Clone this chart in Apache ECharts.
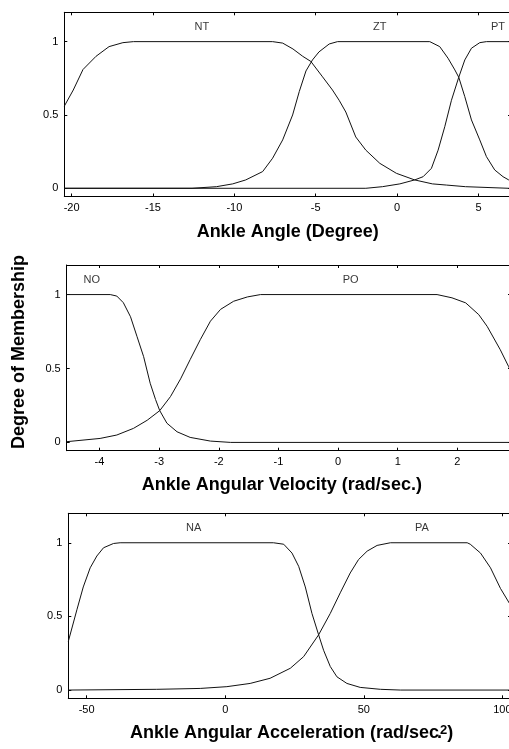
<!DOCTYPE html>
<html lang="en">
<head>
    <meta charset="UTF-8">
    <title>Membership functions</title>
    <script src="https://cdn.jsdelivr.net/npm/echarts@6/dist/echarts.min.js"></script>
</head>
<style>
    *{
        margin: 0;
        padding: 0;
    }
    html,body{
        width: 100%;
        height: 100%;
        overflow: hidden;
        background: #fff;
    }
    .container{
        width: 509px;
        height: 749px;
    }
</style>
<body>
<div class="container"></div>
<script>
    // y axis, shared by the three plots
    const yTicks = [0, 0.5, 1];
    const yMin = -0.056, yMax = 1.2;

    // ankle angle (degree)
    const angleTicks = [-20, -15, -10, -5, 0, 5];
    const angleRange = [-20.45, 7];
    const angleNT = [[-20.45,0.56],[-19.9,0.67],[-19.3,0.81],[-18.5,0.9],[-17.7,0.966],[-16.85,0.993],[-16.2,1],[-7.65,1],[-7.03,0.99],[-6.4,0.95],[-5.8,0.9],[-5.3,0.865],[-4.58,0.76],[-3.97,0.67],[-3.56,0.6],[-3.15,0.52],[-2.54,0.35],[-1.92,0.26],[-1.06,0.17],[-0.04,0.102],[1.08,0.057],[2.17,0.03],[3.03,0.022],[4.2,0.011],[6.86,0],[7,0]];
    const angleZT = [[-20.45,0],[-12.6,0],[-11.1,0.011],[-10.1,0.03],[-9.3,0.057],[-8.26,0.114],[-7.65,0.205],[-7.03,0.33],[-6.42,0.5],[-6.01,0.66],[-5.6,0.8],[-5.2,0.875],[-4.8,0.93],[-4.17,0.984],[-3.66,1],[2.01,1],[2.62,0.966],[3.13,0.887],[3.55,0.807],[3.79,0.757],[4.16,0.625],[4.57,0.466],[5.08,0.33],[5.49,0.216],[6.0,0.125],[6.51,0.079],[6.86,0.057],[7,0.052]];
    const anglePT = [[-20.45,0],[-1.92,0],[-0.9,0.011],[0.17,0.03],[1.08,0.057],[1.6,0.079],[2.11,0.136],[2.52,0.26],[2.93,0.42],[3.34,0.6],[3.79,0.757],[4.16,0.875],[4.57,0.955],[5.08,0.993],[5.49,1],[7,1]];
    const angleNames = ['NT', 'ZT', 'PT'];
    const angleNameX = [-12, -1.06, 6.2];

    // ankle angular velocity (rad/sec.)
    const velTicks = [-4, -3, -2, -1, 0, 1, 2];
    const velRange = [-4.55, 2.9];
    const velNO = [[-4.55,1],[-3.82,1],[-3.71,0.99],[-3.6,0.945],[-3.48,0.85],[-3.37,0.715],[-3.26,0.58],[-3.15,0.4],[-3.06,0.29],[-2.99,0.215],[-2.87,0.13],[-2.7,0.072],[-2.48,0.034],[-2.14,0.009],[-1.8,0],[2.9,0]];
    const velPO = [[-4.55,0.005],[-3.99,0.027],[-3.71,0.05],[-3.43,0.095],[-3.2,0.15],[-2.99,0.215],[-2.81,0.31],[-2.64,0.43],[-2.48,0.56],[-2.31,0.695],[-2.14,0.82],[-1.97,0.9],[-1.75,0.955],[-1.52,0.984],[-1.3,1],[1.66,1],[1.91,0.978],[2.14,0.944],[2.36,0.864],[2.5,0.785],[2.61,0.706],[2.72,0.627],[2.86,0.513],[2.9,0.48]];
    const velNames = ['NO', 'PO'];
    const velNameX = [-4.13, 0.21];

    // ankle angular acceleration (rad/sec^2)
    const accTicks = [-50, 0, 50, 100];
    const accRange = [-56.6, 103.1];
    const accNA = [[-56.6,0.33],[-53.5,0.545],[-51.2,0.7],[-48.7,0.83],[-46.3,0.91],[-43.9,0.966],[-40.3,0.995],[-37.9,1],[17.4,1],[21.1,0.99],[24.1,0.93],[26.5,0.84],[28.9,0.7],[31.3,0.52],[33.7,0.375],[35.5,0.27],[37.9,0.16],[40.3,0.09],[43.9,0.045],[48.7,0.018],[56,0.005],[63.2,0],[103.1,0]];
    const accPA = [[-56.6,0],[-24.7,0.005],[-9,0.011],[0.6,0.023],[9,0.045],[16.2,0.08],[23.5,0.148],[28.3,0.227],[33.7,0.375],[37.9,0.52],[41.5,0.66],[45.1,0.795],[48.1,0.886],[51.2,0.943],[54.8,0.982],[59.6,1],[87.3,1],[88.4,0.99],[92.1,0.93],[95.7,0.83],[99.3,0.69],[102.5,0.59],[103.1,0.57]];
    const accNames = ['NA', 'PA'];
    const accNameX = [-11.4, 71];

    const nameY = 1.1;

    const font = 'Liberation Sans, Arial, sans-serif';

    let container = document.querySelector('.container');
    let mycharts = echarts.init(container);

    let grids = [
        {left: 64.3, top: 12.3, height: 184.2, right: -2, outerBoundsMode: 'none'},
        {left: 66.7, top: 265, height: 185.7, right: -2, outerBoundsMode: 'none'},
        {left: 68.3, top: 513.3, height: 185, right: -2, outerBoundsMode: 'none'}
    ];

    let plots = [
        {range: angleRange, ticks: angleTicks, curves: [angleNT, angleZT, anglePT], names: angleNames, nameX: angleNameX,
         title: 'Ankle Angle (Degree)', gap: 27, pad: [0, 0, 0, 0]},
        {range: velRange, ticks: velTicks, curves: [velNO, velPO], names: velNames, nameX: velNameX,
         title: 'Ankle Angular Velocity (rad/sec.)', gap: 25.5, pad: [0, 14, 0, 0]},
        {range: accRange, ticks: accTicks, curves: [accNA, accPA], names: accNames, nameX: accNameX,
         title: 'Ankle Angular Acceleration (rad/sec{dot|.}{sup|2})', gap: 25.5, pad: [0, 0, 0, 4]}
    ];

    let xAxis = [], yAxis = [], series = [];
    let line = {show: true, onZero: false, lineStyle: {color: '#000', width: 1}};
    let tickIn = {inside: true, length: 3, lineStyle: {color: '#000', width: 1}};

    plots.forEach((p, i) => {
        xAxis.push({
            type: 'value', gridIndex: i, position: 'bottom',
            min: p.range[0], max: p.range[1],
            axisLine: line,
            axisTick: Object.assign({customValues: p.ticks}, tickIn),
            axisLabel: {customValues: p.ticks, color: '#000', fontSize: 11, fontFamily: font, margin: 6},
            splitLine: {show: false},
            name: p.title, nameLocation: 'middle', nameGap: p.gap,
            nameTextStyle: {
                color: '#000', fontSize: 18, fontWeight: 'bold', fontFamily: font, padding: p.pad,
                rich: {
                    dot: {color: '#000', fontSize: 18, fontWeight: 'bold', fontFamily: font, width: 1},
                    sup: {color: '#000', fontSize: 13, fontWeight: 'bold', fontFamily: font, verticalAlign: 'top'}
                }
            }
        });
        xAxis.push({
            type: 'value', gridIndex: i, position: 'top',
            min: p.range[0], max: p.range[1],
            axisLine: line,
            axisTick: Object.assign({customValues: p.ticks}, tickIn),
            axisLabel: {show: false},
            splitLine: {show: false}
        });
        yAxis.push({
            type: 'value', gridIndex: i, position: 'left',
            min: yMin, max: yMax,
            axisLine: line,
            axisTick: Object.assign({customValues: yTicks}, tickIn),
            axisLabel: {customValues: yTicks, color: '#000', fontSize: 11, fontFamily: font, margin: 6},
            splitLine: {show: false}
        });
        yAxis.push({
            type: 'value', gridIndex: i, position: 'right',
            min: yMin, max: yMax,
            axisLine: line,
            axisTick: Object.assign({customValues: yTicks}, tickIn),
            axisLabel: {show: false},
            splitLine: {show: false}
        });

        p.curves.forEach(c => {
            series.push({
                type: 'line', xAxisIndex: i * 2, yAxisIndex: i * 2,
                data: c, showSymbol: false, symbol: 'none', smooth: false,
                lineStyle: {color: '#111', width: 1},
                silent: true
            });
        });

        series.push({
            type: 'scatter', xAxisIndex: i * 2, yAxisIndex: i * 2,
            data: p.names.map((n, k) => [p.nameX[k], nameY, n]),
            symbolSize: 1,
            itemStyle: {color: 'rgba(0,0,0,0)'},
            label: {
                show: true, position: 'inside', color: '#000', fontSize: 11, fontFamily: font,
                formatter: function (param) {
                    return param.data[2];
                }
            },
            silent: true
        });
    });

    option = {
        backgroundColor: '#fff',
        animation: false,
        grid: grids,
        xAxis,
        yAxis,
        series,
        graphic: [{
            type: 'text',
            x: 19, y: 352,
            rotation: Math.PI / 2,
            style: {
                text: 'Degree of Membership',
                fill: '#000',
                font: 'bold 18px ' + font,
                align: 'center',
                verticalAlign: 'middle'
            }
        }]
    };

    mycharts.setOption(option);
</script>
</body>
</html>
